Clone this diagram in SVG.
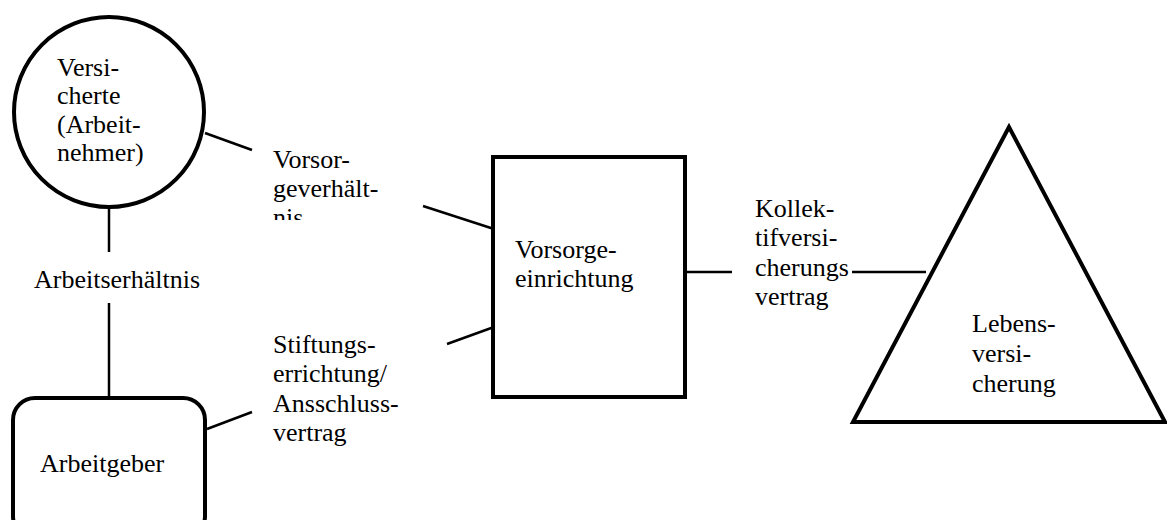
<svg xmlns="http://www.w3.org/2000/svg" width="1167" height="520" viewBox="0 0 1167 520" font-family="Liberation Serif, Times New Roman, serif" font-size="26">
<style>
text{fill:#000}
.shape{fill:#fff;stroke:#000;stroke-width:4}
.conn line{stroke:#000;stroke-width:2.5}
</style>
<defs>
<clipPath id="clipV"><rect x="260" y="140" width="160" height="80"/></clipPath>
</defs>
<rect width="1167" height="520" fill="#fff"/>
<g id="connectors" class="conn">
<line x1="109" y1="203" x2="109" y2="252"/>
<line x1="109" y1="303" x2="109" y2="398"/>
<line x1="205" y1="133" x2="252" y2="150"/>
<line x1="423" y1="206" x2="494" y2="229"/>
<line x1="207" y1="429" x2="252" y2="412"/>
<line x1="447" y1="344" x2="494" y2="327"/>
<line x1="685" y1="272" x2="732" y2="272"/>
<line x1="852" y1="272" x2="926" y2="272"/>
</g>
<g id="versicherte">
<circle class="shape" cx="109" cy="112" r="95" stroke-width="3.5"/>
<text x="57" y="76">Versi-</text>
<text x="57" y="104">cherte</text>
<text x="57" y="133">(Arbeit-</text>
<text x="57" y="161">nehmer)</text>
</g>
<g id="arbeitgeber">
<rect class="shape" x="13" y="398" width="192" height="140" rx="22"/>
<text x="40" y="472">Arbeitgeber</text>
</g>
<g id="vorsorgeeinrichtung">
<rect class="shape" x="493" y="157" width="192" height="240"/>
<text x="515" y="258">Vorsorge-</text>
<text x="515" y="287">einrichtung</text>
</g>
<g id="lebensversicherung">
<polygon class="shape" points="1009,127 853,422 1165,422"/>
<text x="972" y="332">Lebens-</text>
<text x="972" y="362">versi-</text>
<text x="972" y="392">cherung</text>
</g>
<g id="labels">
<text x="34" y="288">Arbeitserhältnis</text>
<g clip-path="url(#clipV)">
<text x="273" y="168">Vorsor-</text>
<text x="273" y="197">geverhält-</text>
<text x="273" y="226">nis</text>
</g>
<text x="273" y="353">Stiftungs-</text>
<text x="273" y="382">errichtung/</text>
<text x="273" y="412">Ansschluss-</text>
<text x="273" y="441">vertrag</text>
<text x="755" y="217">Kollek-</text>
<text x="755" y="246">tifversi-</text>
<text x="755" y="276">cherungs</text>
<text x="755" y="305">vertrag</text>
</g>
</svg>
